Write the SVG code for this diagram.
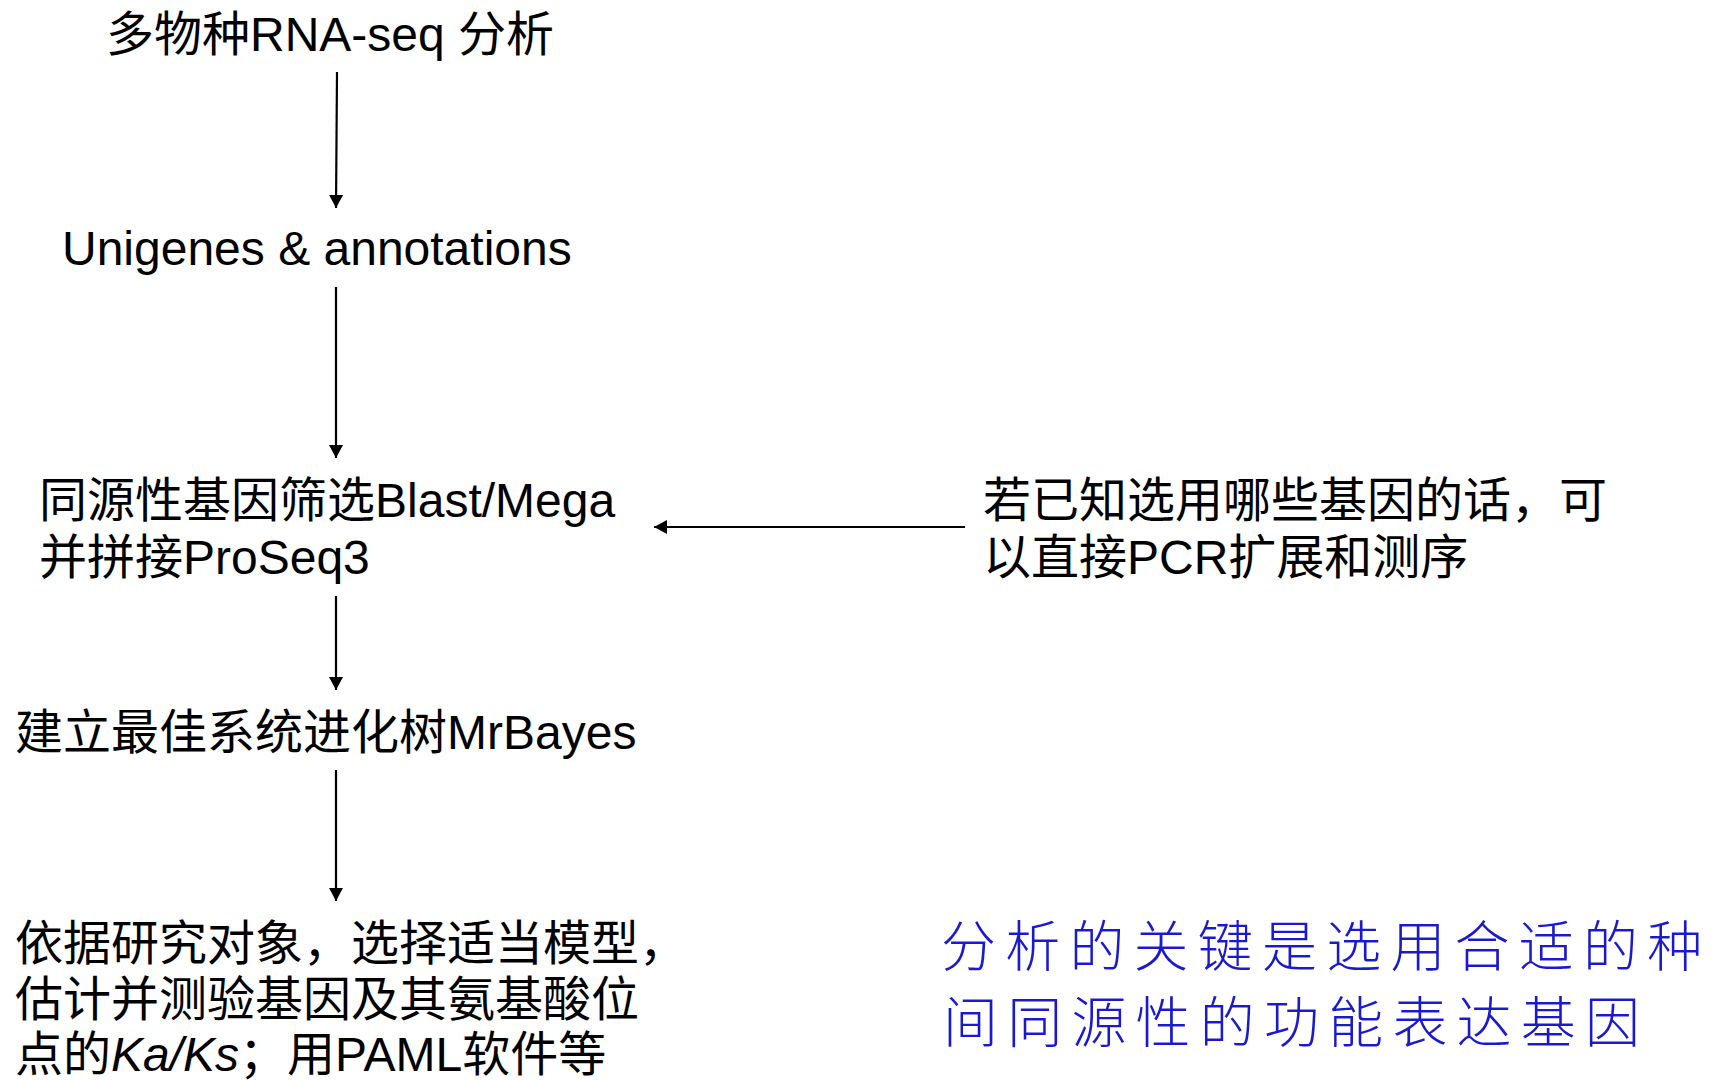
<svg xmlns="http://www.w3.org/2000/svg" width="1719" height="1080" viewBox="0 0 1719 1080">
<style>
.t{font-family:"Liberation Sans","Noto Sans CJK SC",sans-serif;font-size:48px;fill:#000}
.b{font-family:"Noto Sans CJK SC",sans-serif;font-size:55px;fill:#1a1acc;letter-spacing:9.2px;font-weight:300}
.c{stroke:#000;stroke-width:2.2;fill:none;marker-end:url(#ah)}
</style>
<defs>
<marker id="ah" viewBox="0 0 13 21" refX="13" refY="10.5" markerWidth="13" markerHeight="21" markerUnits="userSpaceOnUse" orient="auto">
<path d="M0,3.5 L13,10.5 L0,17.5 Z" fill="#000"/>
</marker>
</defs>
<rect width="1719" height="1080" fill="#fff"/>
<g id="connectors">
<line class="c" x1="337" y1="72" x2="336" y2="208"/>
<line class="c" x1="336" y1="287" x2="336" y2="458"/>
<line class="c" x1="336" y1="596" x2="336" y2="690"/>
<line class="c" x1="336" y1="770" x2="336" y2="901"/>
<line class="c" x1="965" y1="527" x2="654" y2="527"/>
</g>
<g id="n1"><text class="t" x="106" y="51">多物种RNA-seq 分析</text></g>
<g id="n2"><text class="t" x="62" y="265">Unigenes &amp; annotations</text></g>
<g id="n3"><text class="t" x="39" y="517">同源性基因筛选Blast/Mega</text><text class="t" x="39" y="574">并拼接ProSeq3</text></g>
<g id="n4"><text class="t" x="15" y="749">建立最佳系统进化树MrBayes</text></g>
<g id="n5"><text class="t" x="15" y="960">依据研究对象，选择适当模型，</text><text class="t" x="15" y="1016">估计并测验基因及其氨基酸位</text><text class="t" x="15" y="1071">点的<tspan font-style="italic">Ka/Ks</tspan>；用PAML软件等</text></g>
<g id="n6"><text class="t" x="983" y="517">若已知选用哪些基因的话，可</text><text class="t" x="983" y="574">以直接PCR扩展和测序</text></g>
<g id="note"><text class="b" x="941" y="966">分析的关键是选用合适的种</text><text class="b" x="943" y="1042">间同源性的功能表达基因</text></g>
</svg>
